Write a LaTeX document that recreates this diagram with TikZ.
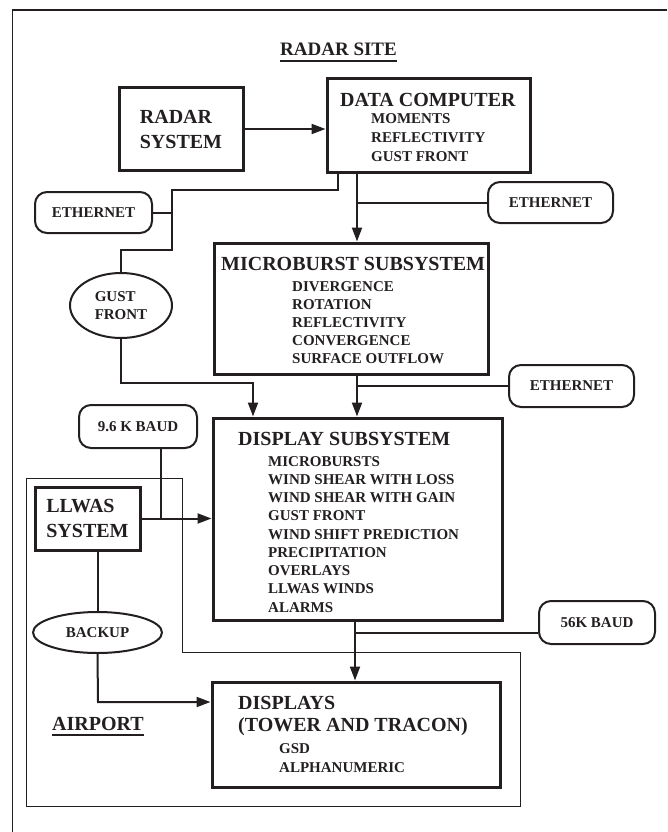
\documentclass[tikz,border=0pt]{standalone}
\usepackage{fontspec}
\setmainfont{Liberation Serif}
\usetikzlibrary{arrows.meta,shapes.geometric}
\definecolor{ink}{RGB}{35,31,32}

\tikzset{
  sysbox/.style={draw,line width=3pt,inner sep=0,align=left,font=\fontsize{20}{25}\selectfont\bfseries},
  linkbox/.style={draw,line width=2pt,rounded corners=12pt,inner sep=0,font=\fontsize{15}{18}\selectfont\bfseries},
  linkoval/.style={draw,ellipse,line width=2pt,inner sep=0,align=left,font=\fontsize{15}{18}\selectfont\bfseries},
  head/.style={anchor=base west,inner sep=0,font=\fontsize{20}{24}\selectfont\bfseries},
  entry/.style={anchor=base west,inner sep=0,font=\fontsize{15}{18}\selectfont\bfseries},
  wire/.style={line width=2pt},
  feed/.style={wire,-{Triangle[length=14pt,width=10pt]}},
}

\begin{document}
\begin{tikzpicture}[x=1pt,y=-1pt,color=ink]
  \useasboundingbox (0,0) rectangle (667,832);
  % page frame and airport area
  \draw[line width=1.2pt] (12.7,832) |- (667,10);
  \draw[line width=1pt] (26.5,478) -- (182,478) -- (182,652) -- (520,652) -- (520,806) -- (26.5,806) -- cycle;

  \node[head,font=\fontsize{19}{22}\selectfont\bfseries] (site) at (280,55.5) {RADAR SITE};
  \draw[line width=1.5pt] ([yshift=-5.5pt]site.base west) -- ([yshift=-5.5pt]site.base east);

  % systems
  \node[sysbox,minimum width=124pt,minimum height=82pt] (radar) at (181,129) {RADAR\\SYSTEM};
  \node[sysbox,minimum width=203pt,minimum height=93pt] (datacomp) at (428.5,125.5) {};
  \node[head] (datacomp-t) at (340,107) {DATA COMPUTER};
  \foreach \txt [count=\k] in {MOMENTS,REFLECTIVITY,GUST FRONT}
    \node[entry] (datacomp-\k) at (371,{124+18.5*(\k-1)}) {\txt};

  \node[sysbox,minimum width=274pt,minimum height=131pt] (micro) at (351,308.5) {};
  \node[head] (micro-t) at (221,270) {MICROBURST SUBSYSTEM};
  \foreach \txt [count=\k] in {DIVERGENCE,ROTATION,REFLECTIVITY,CONVERGENCE,SURFACE OUTFLOW}
    \node[entry] (micro-\k) at (292,{291+18.2*(\k-1)}) {\txt};

  \node[sysbox,minimum width=289pt,minimum height=202pt] (dispsub) at (357.5,519) {};
  \node[head] (dispsub-t) at (238,445) {DISPLAY SUBSYSTEM};
  \foreach \txt [count=\k] in {MICROBURSTS,WIND SHEAR WITH LOSS,WIND SHEAR WITH GAIN,GUST FRONT,WIND SHIFT PREDICTION,PRECIPITATION,OVERLAYS,LLWAS WINDS,ALARMS}
    \node[entry] (dispsub-\k) at (268,{466+18.25*(\k-1)}) {\txt};

  \node[sysbox,minimum width=105pt,minimum height=63pt] (llwas) at (87.5,518.5) {LLWAS\\SYSTEM};

  \node[sysbox,minimum width=288pt,minimum height=105pt] (disps) at (356,734.5) {};
  \node[head] (disps-t) at (238,709) {DISPLAYS};
  \node[head] (disps-t2) at (238,731) {(TOWER AND TRACON)};
  \node[entry] (disps-1) at (279,753) {GSD};
  \node[entry] (disps-2) at (279,772) {ALPHANUMERIC};

  \node[head] (airport) at (52,730) {AIRPORT};
  \draw[line width=1.5pt] ([yshift=-5pt]airport.base west) -- ([yshift=-5pt]airport.base east);

  % links
  \node[linkbox,minimum width=117pt,minimum height=41pt] (eth1) at (93.5,212.5) {ETHERNET};
  \node[linkbox,minimum width=125pt,minimum height=41pt] (eth2) at (550.5,202.5) {ETHERNET};
  \node[linkbox,minimum width=125pt,minimum height=42pt] (eth3) at (571.5,386) {ETHERNET};
  \node[linkbox,minimum width=118pt,minimum height=43pt] (baud96) at (138,426.5) {9.6 K BAUD};
  \node[linkbox,minimum width=116pt,minimum height=43pt] (baud56) at (597,622.5) {56K BAUD};
  \node[linkoval,minimum width=102pt,minimum height=65pt] (gust) at (121,305.5) {GUST\\FRONT};
  \node[linkoval,minimum width=129pt,minimum height=41pt] (backup) at (97.5,632.5) {BACKUP};

  % connectors
  \coordinate (trunk) at (357,0);
  \coordinate (trunkb) at (355,0);
  \coordinate (dcleft) at (338,190);
  \coordinate (ethbus) at (172,250);
  \coordinate (gfturn) at (253,383);
  \coordinate (lljoin) at (161,518.5);
  \coordinate (bkrow) at (98,702);
  \coordinate (j56) at (355,633);

  \draw[feed] (radar.east) -- (radar.east -| datacomp.west);
  \draw[wire] (datacomp.south -| dcleft) -- (dcleft) -| (ethbus) -| (gust.north);
  \draw[wire] (eth1.east) -- (eth1.east -| ethbus);
  \draw[feed] (datacomp.south -| trunk) -- (micro.north -| trunk);
  \draw[wire] (eth2.west) -- (eth2.west -| trunk);
  \draw[feed] (micro.south -| trunk) -- (dispsub.north -| trunk);
  \draw[wire] (eth3.west) -- (eth3.west -| trunk);
  \draw[feed] (gust.south) |- (gfturn) -- (dispsub.north -| gfturn);
  \draw[wire] (baud96.south -| lljoin) -- (lljoin);
  \draw[feed] (llwas.east) -- (llwas.east -| dispsub.west);
  \draw[wire] (llwas.south -| backup.north) -- (backup.north);
  \draw[feed] (backup.south) -- (bkrow) -- (bkrow -| disps.west);
  \draw[feed] (dispsub.south -| trunkb) -- (disps.north -| trunkb);
  \draw[wire] (j56) -- (j56 -| baud56.west);
\end{tikzpicture}
\end{document}
